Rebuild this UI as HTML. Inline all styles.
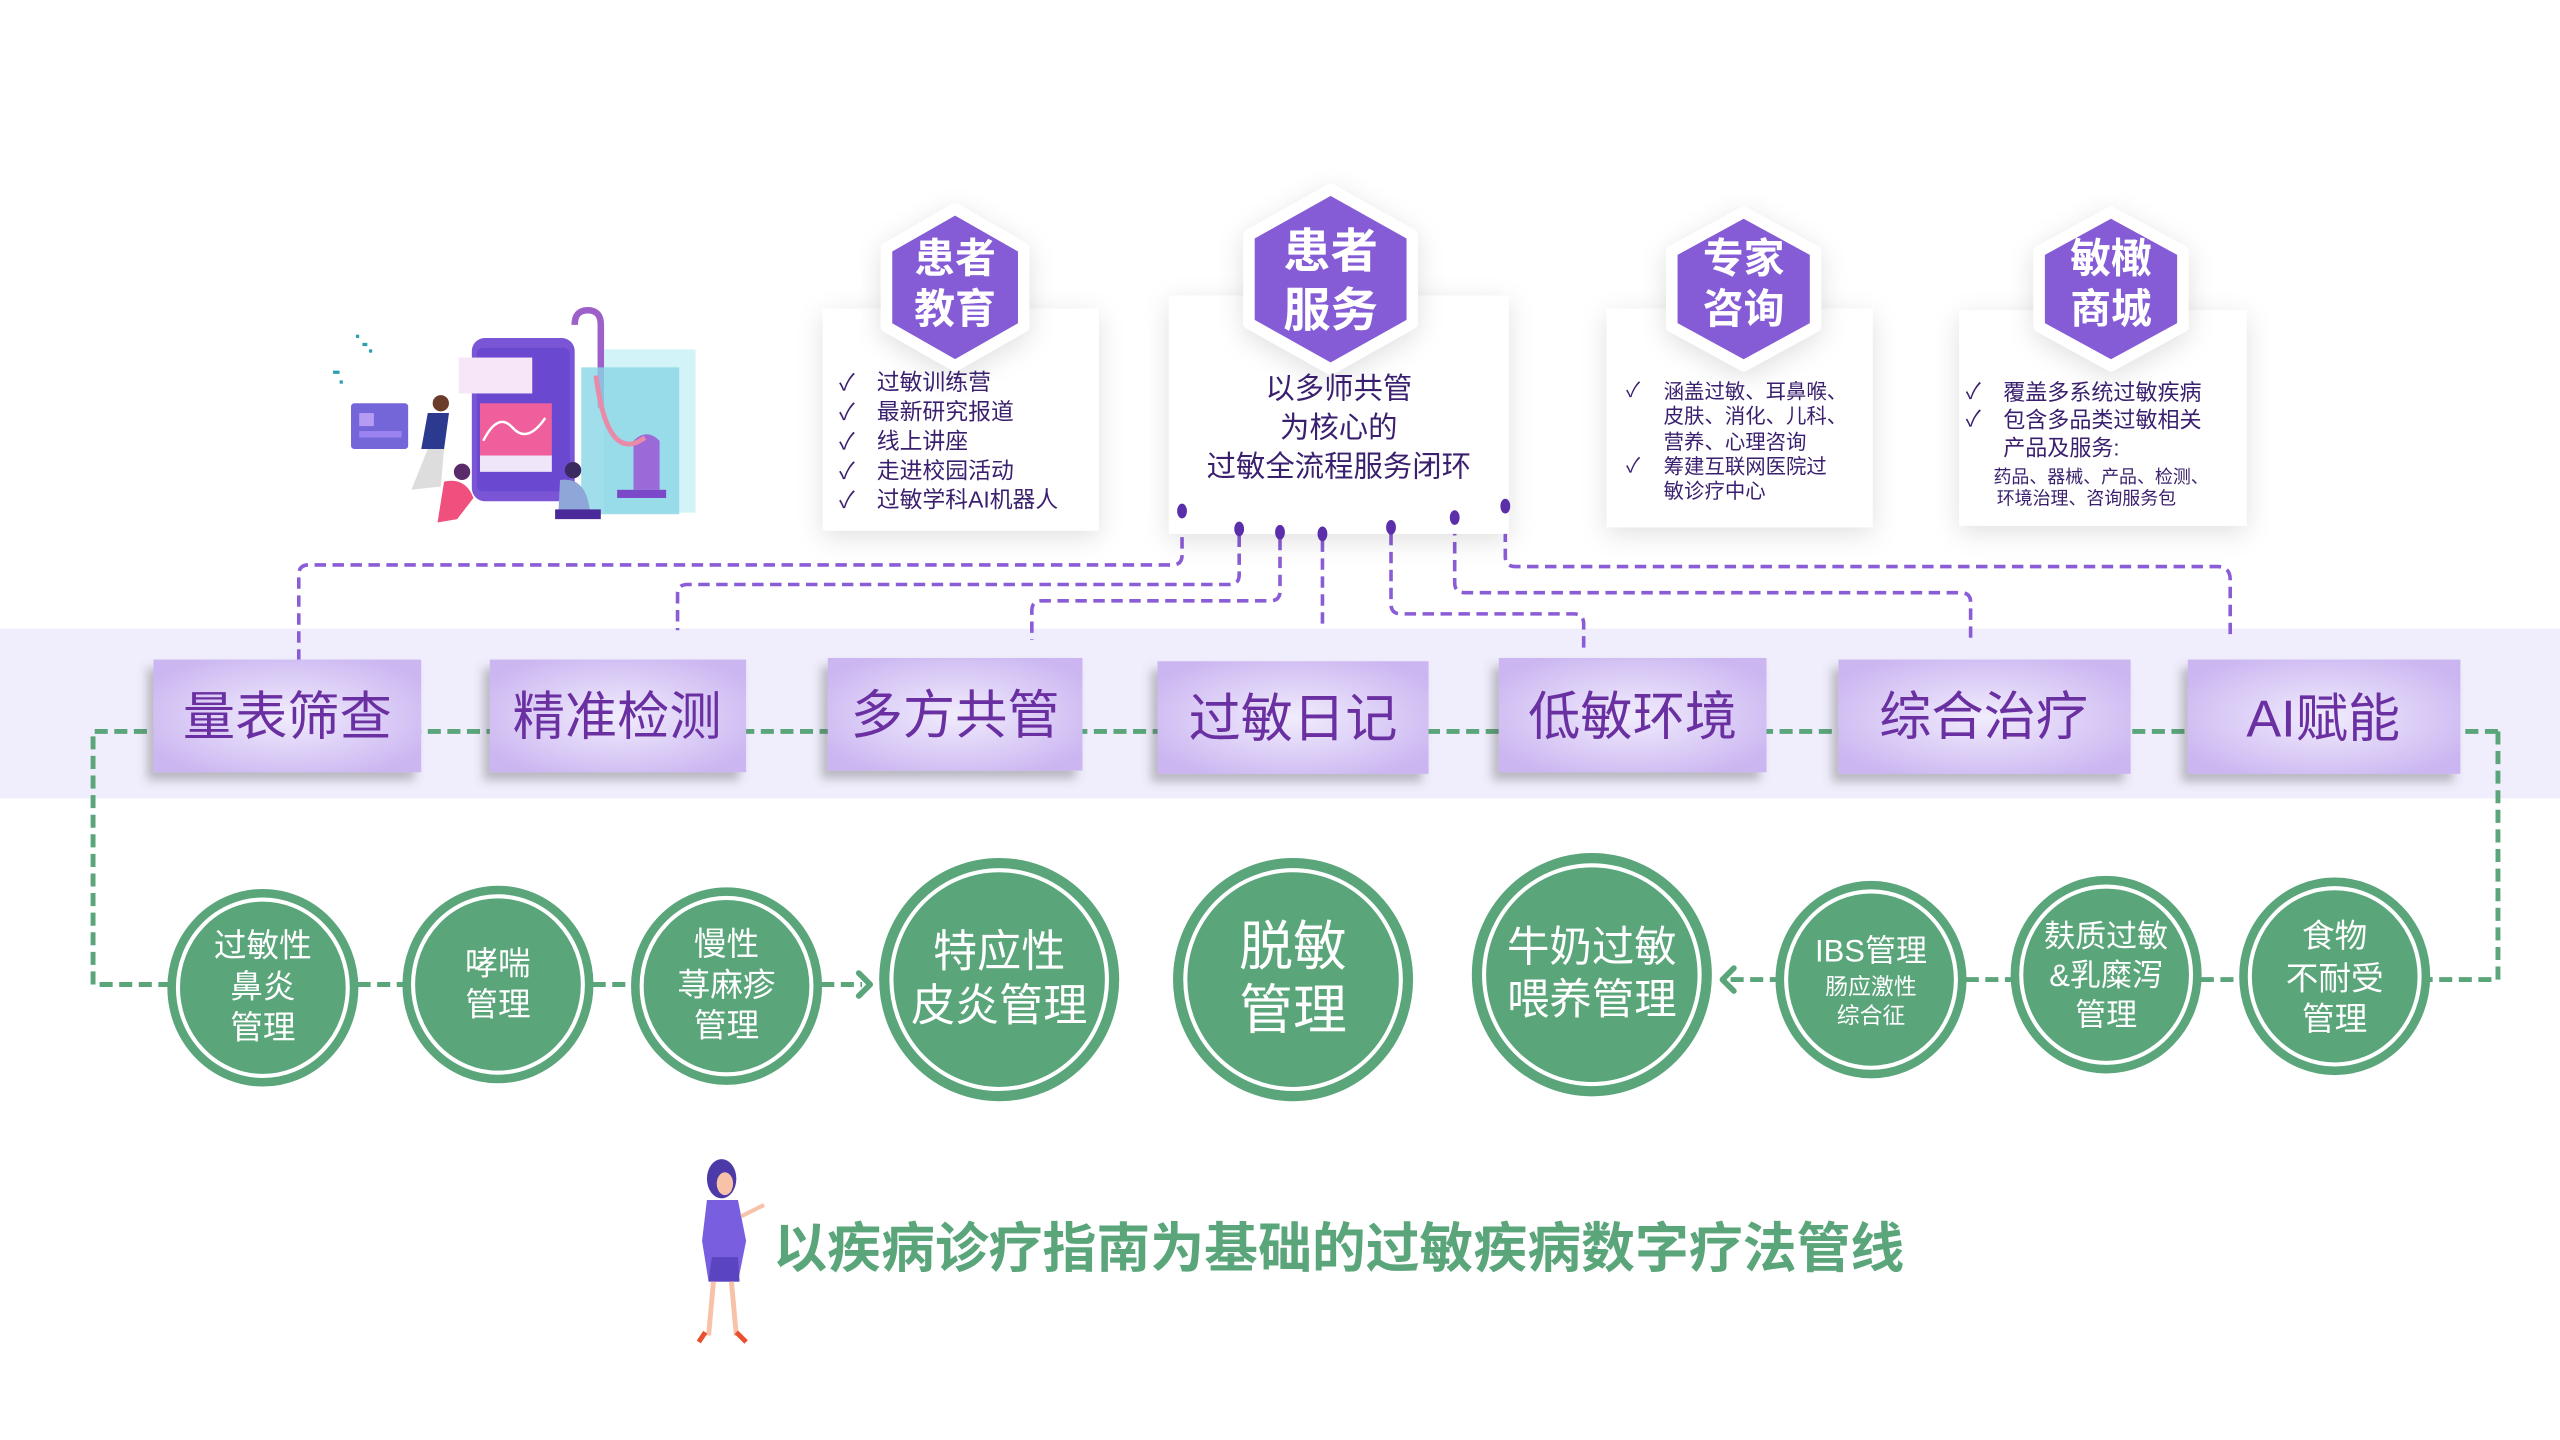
<!DOCTYPE html>
<html><head><meta charset="utf-8"><style>
html,body{margin:0;padding:0;background:#fff;}
svg{display:block;}
text{font-family:"Liberation Sans","Noto Sans CJK SC",sans-serif;}
</style></head><body>
<svg width="2560" height="1440" viewBox="0 0 1568 882" xmlns="http://www.w3.org/2000/svg">
<defs>
<radialGradient id="bx" cx="50%" cy="50%" r="60%">
<stop offset="0" stop-color="#f1ecfd"/><stop offset="1" stop-color="#cbb6f1"/>
</radialGradient>
<filter id="sh" x="-20%" y="-20%" width="140%" height="150%"><feDropShadow dx="0" dy="4" stdDeviation="8" flood-color="#000" flood-opacity="0.12"/></filter>
<filter id="sh2" x="-20%" y="-20%" width="140%" height="150%"><feDropShadow dx="-4" dy="5" stdDeviation="3" flood-color="#555" flood-opacity="0.35"/></filter>
</defs>
<rect width="1568" height="882" fill="#fff"/>
<rect x="0" y="385" width="1568" height="104" fill="#f0eefc"/>

<g fill="none" stroke="#8a5cd6" stroke-width="2.2" stroke-dasharray="7 4">
<path d="M724 318 V340 Q724 346 718 346 H189 Q183 346 183 352 V404"/>
<path d="M759 328 V352 Q759 358 753 358 H421 Q415 358 415 364 V386"/>
<path d="M784 330 V362 Q784 368 778 368 H638 Q632 368 632 374 V392"/>
<path d="M810 331 V383"/>
<path d="M852 327 V370 Q852 376 858 376 H964 Q970 376 970 382 V398"/>
<path d="M891 321 V357 Q891 363 897 363 H1201 Q1207 363 1207 369 V392"/>
<path d="M922 314 V341 Q922 347 928 347 H1358 Q1366 347 1366 355 V392"/>
</g>

<g fill="#fff" filter="url(#sh)">
<rect x="504" y="189" width="169" height="136"/>
<rect x="716" y="181" width="208" height="146"/>
<rect x="984" y="189" width="163" height="134"/>
<rect x="1200" y="190" width="176" height="132"/>
</g>
<g fill="#5b2eaa">
<ellipse cx="724" cy="313" rx="3" ry="4.5"/><ellipse cx="759" cy="324" rx="3" ry="4.5"/><ellipse cx="784" cy="326" rx="3" ry="4.5"/><ellipse cx="810" cy="327" rx="3" ry="4.5"/><ellipse cx="852" cy="323" rx="3" ry="4.5"/><ellipse cx="891" cy="317" rx="3" ry="4.5"/><ellipse cx="922" cy="310" rx="3" ry="4.5"/>
</g>
<g stroke="#fff" stroke-width="7" stroke-linejoin="round" fill="#855bd5" filter="url(#sh)">
<polygon points="585,128 627,152 627,200 585,224 543,200 543,152"/>
<polygon points="815,116 865,144 865,198 815,226 765,198 765,144"/>
<polygon points="1068,130 1112,154 1112,200 1068,224 1024,200 1024,154"/>
<polygon points="1293,130 1337,154 1337,200 1293,224 1249,200 1249,154"/>
</g>
<g fill="#fff" font-weight="bold" text-anchor="middle">
<text x="585" y="167" font-size="25">患者</text><text x="585" y="198" font-size="25">教育</text>
<text x="815" y="164" font-size="29">患者</text><text x="815" y="200" font-size="29">服务</text>
<text x="1068" y="167" font-size="25">专家</text><text x="1068" y="198" font-size="25">咨询</text>
<text x="1293" y="167" font-size="25">敏橄</text><text x="1293" y="198" font-size="25">商城</text>
</g>
<g fill="#3a1f6e" font-size="14">
<text x="514" y="239">✓</text><text x="537" y="239">过敏训练营</text>
<text x="514" y="257">✓</text><text x="537" y="257">最新研究报道</text>
<text x="514" y="275">✓</text><text x="537" y="275">线上讲座</text>
<text x="514" y="293">✓</text><text x="537" y="293">走进校园活动</text>
<text x="514" y="311">✓</text><text x="537" y="311">过敏学科AI机器人</text>
</g>
<g fill="#3a1f6e" font-size="18" text-anchor="middle">
<text x="820" y="244">以多师共管</text><text x="820" y="268">为核心的</text><text x="820" y="292">过敏全流程服务闭环</text>
</g>
<g fill="#3a1f6e" font-size="12.5">
<text x="996" y="243">✓</text><text x="1019" y="244">涵盖过敏、耳鼻喉、</text>
<text x="1019" y="259">皮肤、消化、儿科、</text>
<text x="1019" y="275">营养、心理咨询</text>
<text x="996" y="289">✓</text><text x="1019" y="290">筹建互联网医院过</text>
<text x="1019" y="305">敏诊疗中心</text>
</g>
<g fill="#3a1f6e" font-size="13.5">
<text x="1204" y="244">✓</text><text x="1227" y="245">覆盖多系统过敏疾病</text>
<text x="1204" y="261">✓</text><text x="1227" y="262">包含多品类过敏相关</text>
<text x="1227" y="279">产品及服务:</text>
<text x="1221" y="296" font-size="11">药品、器械、产品、检测、</text>
<text x="1223" y="309" font-size="11">环境治理、咨询服务包</text>
</g>

<g fill="none" stroke="#5aa57a" stroke-width="3" stroke-dasharray="8 4">
<path d="M1530 448 H57 V603 H104"/>
<path d="M1530 448 V600 H1488"/>
<path d="M219 603 H248"/><path d="M363 603 H388"/><path d="M503 603 H528"/>
<path d="M1060 600 H1089"/><path d="M1204 600 H1232"/><path d="M1348 600 H1373"/>
</g>
<g fill="none" stroke="#5aa57a" stroke-width="3.5" stroke-linecap="round" stroke-linejoin="round">
<path d="M526 596 L533 603 L526 610"/><path d="M1062 593 L1055 600 L1062 607"/>
</g>

<g fill="url(#bx)" filter="url(#sh2)">
<rect x="94" y="404" width="164" height="69"/>
<rect x="300" y="404" width="157" height="69"/>
<rect x="507" y="403" width="156" height="69"/>
<rect x="709" y="405" width="166" height="69"/>
<rect x="918" y="403" width="164" height="70"/>
<rect x="1126" y="404" width="179" height="70"/>
<rect x="1340" y="404" width="167" height="70"/>
</g>
<g fill="#6a2fa0" font-size="32" text-anchor="middle">
<text x="176" y="450">量表筛查</text>
<text x="378" y="450">精准检测</text>
<text x="585" y="449">多方共管</text>
<text x="792" y="451">过敏日记</text>
<text x="1000" y="450">低敏环境</text>
<text x="1215" y="450">综合治疗</text>
<text x="1423" y="451">AI赋能</text>
</g>

<g fill="#5aa57a" stroke="#5aa57a" stroke-width="3">
<ellipse cx="161" cy="605" rx="57" ry="59"/>
<ellipse cx="305" cy="603" rx="57" ry="59"/>
<ellipse cx="445" cy="604" rx="57" ry="59"/>
<ellipse cx="612" cy="600" rx="72" ry="73"/>
<ellipse cx="792" cy="600" rx="72" ry="73"/>
<ellipse cx="975" cy="597" rx="72" ry="73"/>
<ellipse cx="1146" cy="600" rx="57" ry="59"/>
<ellipse cx="1290" cy="597" rx="57" ry="59"/>
<ellipse cx="1430" cy="598" rx="57" ry="59"/>
</g>
<g fill="none" stroke="#fff" stroke-width="2.5">
<ellipse cx="161" cy="605" rx="52" ry="54"/>
<ellipse cx="305" cy="603" rx="52" ry="54"/>
<ellipse cx="445" cy="604" rx="52" ry="54"/>
<ellipse cx="612" cy="600" rx="66" ry="67"/>
<ellipse cx="792" cy="600" rx="66" ry="67"/>
<ellipse cx="975" cy="597" rx="66" ry="67"/>
<ellipse cx="1146" cy="600" rx="52" ry="54"/>
<ellipse cx="1290" cy="597" rx="52" ry="54"/>
<ellipse cx="1430" cy="598" rx="52" ry="54"/>
</g>
<g fill="#fff" text-anchor="middle" font-size="20">
<text x="161" y="586">过敏性</text><text x="161" y="611">鼻炎</text><text x="161" y="636">管理</text>
<text x="305" y="597">哮喘</text><text x="305" y="622">管理</text>
<text x="445" y="585">慢性</text><text x="445" y="610">荨麻疹</text><text x="445" y="635">管理</text>
<text x="612" y="592" font-size="27">特应性</text><text x="612" y="625" font-size="27">皮炎管理</text>
<text x="792" y="591" font-size="33">脱敏</text><text x="792" y="630" font-size="33">管理</text>
<text x="975" y="589" font-size="26">牛奶过敏</text><text x="975" y="621" font-size="26">喂养管理</text>
<text x="1146" y="589" font-size="19">IBS管理</text><text x="1146" y="609" font-size="14">肠应激性</text><text x="1146" y="627" font-size="14">综合征</text>
<text x="1290" y="580" font-size="19">麸质过敏</text><text x="1290" y="604" font-size="19">&amp;乳糜泻</text><text x="1290" y="628" font-size="19">管理</text>
<text x="1430" y="580">食物</text><text x="1430" y="606">不耐受</text><text x="1430" y="631">管理</text>
</g>

<g>
<rect x="215" y="247" width="35" height="28" rx="2" fill="#7466d8"/>
<rect x="220" y="253" width="9" height="8" fill="#b59cf2"/><rect x="220" y="264" width="26" height="4" fill="#9a82f0"/>
<path d="M352 199 Q352 190 360 190 Q368 190 368 199 V250" fill="none" stroke="#9d5fc8" stroke-width="4"/>
<rect x="370" y="214" width="56" height="100" fill="#bfeef5" opacity="0.7"/>
<rect x="356" y="225" width="60" height="90" fill="#8ad6e6" opacity="0.8"/>
<rect x="289" y="207" width="63" height="100" rx="8" fill="#7a55d6"/>
<rect x="292" y="213" width="57" height="88" rx="4" fill="#6a48d0"/>
<rect x="281" y="219" width="45" height="22" fill="#f6e6f8"/>
<rect x="294" y="247" width="44" height="32" fill="#ee5f9c"/>
<path d="M296 270 Q305 252 314 262 T334 256" fill="none" stroke="#fff" stroke-width="1.5"/>
<rect x="294" y="279" width="44" height="10" fill="#f0e6fa"/>
<path d="M382 300 H404 V270 Q396 262 388 270 V300" fill="#9c6ad8"/>
<rect x="378" y="300" width="30" height="5" fill="#7a48c8"/>
<path d="M365 230 Q372 285 395 268" fill="none" stroke="#e98aa8" stroke-width="3"/>
<circle cx="270" cy="247" r="5" fill="#6b3c2a"/>
<path d="M262 253 L275 253 L272 275 L258 275Z" fill="#2b3a8e"/>
<path d="M262 275 L272 275 L270 298 L252 300Z" fill="#ddd"/>
<circle cx="283" cy="289" r="5" fill="#5a2b6a"/>
<path d="M272 295 Q285 292 290 305 L280 318 L268 320Z" fill="#f0507e"/>
<circle cx="351" cy="288" r="5" fill="#3a2a60"/>
<path d="M343 294 Q356 292 360 306 L362 315 L342 315Z" fill="#8ea6d8"/>
<path d="M340 312 H368 V318 H340Z" fill="#4a2a9a"/>
<g fill="#2aa0b0"><rect x="218" y="205" width="2" height="2"/><rect x="222" y="210" width="3" height="2"/><rect x="226" y="214" width="2" height="2"/><rect x="204" y="227" width="4" height="2"/><rect x="208" y="233" width="2" height="2"/></g>
</g>

<g>
<ellipse cx="442" cy="722" rx="9" ry="12" fill="#4b3aa8"/>
<ellipse cx="444" cy="725" rx="5" ry="7" fill="#f7c2a8"/>
<path d="M433 735 L452 735 L457 760 L452 785 L434 785 L430 760Z" fill="#7a5ee0"/>
<path d="M436 770 L452 770 L453 785 L434 785Z" fill="#5a44c0"/>
<path d="M437 785 L434 818 M448 785 L451 818" stroke="#f7c2a8" stroke-width="3"/>
<path d="M432 816 L428 822 M451 816 L457 822" stroke="#e85030" stroke-width="3"/>
<path d="M454 745 L468 738" stroke="#f7c2a8" stroke-width="2.5"/>
</g>
<text x="820" y="776" text-anchor="middle" font-size="33" font-weight="bold" fill="#5aa57a" font-family="'Noto Sans CJK SC',sans-serif">以疾病诊疗指南为基础的过敏疾病数字疗法管线</text>
</svg>
</body></html>
